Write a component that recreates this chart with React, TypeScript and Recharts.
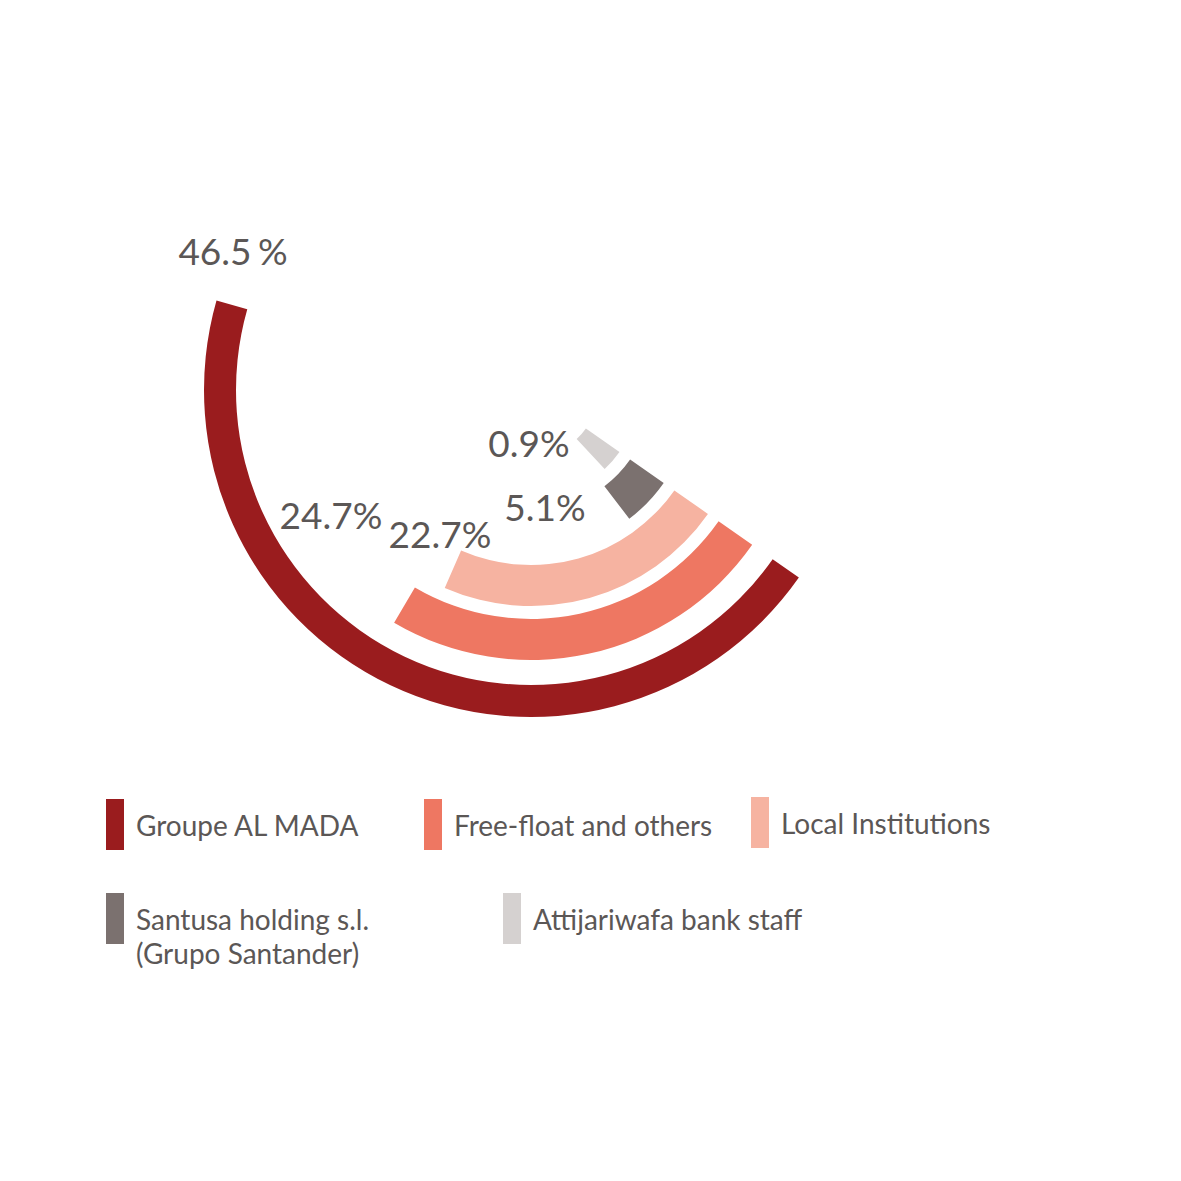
import React from 'react';
import {
  RadialBarChart,
  RadialBar,
  PolarAngleAxis,
  PolarRadiusAxis,
  Cell,
  LabelList,
  Sector,
} from 'recharts';

const shareholders = [
  'Groupe AL MADA',
  'Free-float and others',
  'Local Institutions',
  'Santusa holding s.l. (Grupo Santander)',
  'Attijariwafa bank staff',
];
const legendLines = [
  ['Groupe AL MADA'],
  ['Free-float and others'],
  ['Local Institutions'],
  ['Santusa holding s.l.', '(Grupo Santander)'],
  ['Attijariwafa bank staff'],
];
const shares = [46.5, 24.7, 22.7, 5.1, 0.9];
const shareLabels = ['46.5 %', '24.7%', '22.7%', '5.1%', '0.9%'];

const palette = ['#9a1c1e', '#ee7762', '#f6b3a1', '#7b716f', '#d5d1d0'];
const textColor = '#5b5756';
const font = 'Lato, "Open Sans", sans-serif';

// where each percentage label sits (centre, page pixels)
const labelSlots = [
  [233, 250],
  [331, 514],
  [440, 533],
  [545, 506],
  [529, 442],
];

// legend slots (left, top) in page pixels
const legendSlots = [
  [106, 799],
  [424, 799],
  [751, 797],
  [106, 893],
  [503, 893],
];

// innermost ring first
const data = shares
  .map((value, i) => ({ name: shareholders[i], value, label: shareLabels[i], fill: palette[i] }))
  .reverse();

function ShareLabel(props: any) {
  const { index, value } = props;
  const slot = labelSlots[data.length - 1 - index];
  if (!slot) return null;
  return (
    <text
      x={slot[0]}
      y={slot[1]}
      textAnchor="middle"
      dominantBaseline="central"
      fill={textColor}
      fontFamily={font}
      fontSize={37}
      wordSpacing={-3}
    >
      {value}
    </text>
  );
}

// outer ring is drawn a little thinner and pushed outward, as in the original
function RingShape(props: any) {
  const outer = props.payload && props.payload.name === shareholders[0];
  return (
    <Sector
      cx={props.cx}
      cy={props.cy}
      startAngle={props.startAngle}
      endAngle={props.endAngle}
      innerRadius={props.innerRadius + (outer ? 12 : 0)}
      outerRadius={props.outerRadius + (outer ? 3 : 0)}
      fill={props.fill}
    />
  );
}

export default function App() {
  return (
    <div style={{ position: 'absolute', left: 0, top: 0, width: 1181, height: 1181, background: '#fff' }}>
      <RadialBarChart
        width={1181}
        height={1181}
        cx={531}
        cy={390}
        innerRadius={60}
        outerRadius={330}
        startAngle={-35}
        endAngle={-381}
        barSize={41}
        data={data}
      >
        <PolarAngleAxis type="number" domain={[0, 100]} tick={false} axisLine={false} />
        <PolarRadiusAxis type="category" dataKey="name" tick={false} axisLine={false} />
        <RadialBar dataKey="value" isAnimationActive={false} shape={RingShape} minPointSize={12}>
          {data.map((d) => (
            <Cell key={d.name} fill={d.fill} />
          ))}
          <LabelList dataKey="label" content={ShareLabel} />
        </RadialBar>
      </RadialBarChart>

      {legendLines.map((lines, i) => (
        <div
          key={shareholders[i]}
          style={{
            position: 'absolute',
            left: legendSlots[i][0],
            top: legendSlots[i][1],
            display: 'flex',
            alignItems: 'flex-start',
            fontFamily: font,
            fontSize: 28,
            lineHeight: '34px',
            color: textColor,
          }}
        >
          <div style={{ width: 18, height: 51, background: palette[i], marginRight: 12 }} />
          <div style={{ paddingTop: 9 }}>
            {lines.map((l) => (
              <div key={l} style={{ whiteSpace: 'nowrap' }}>
                {l}
              </div>
            ))}
          </div>
        </div>
      ))}
    </div>
  );
}
